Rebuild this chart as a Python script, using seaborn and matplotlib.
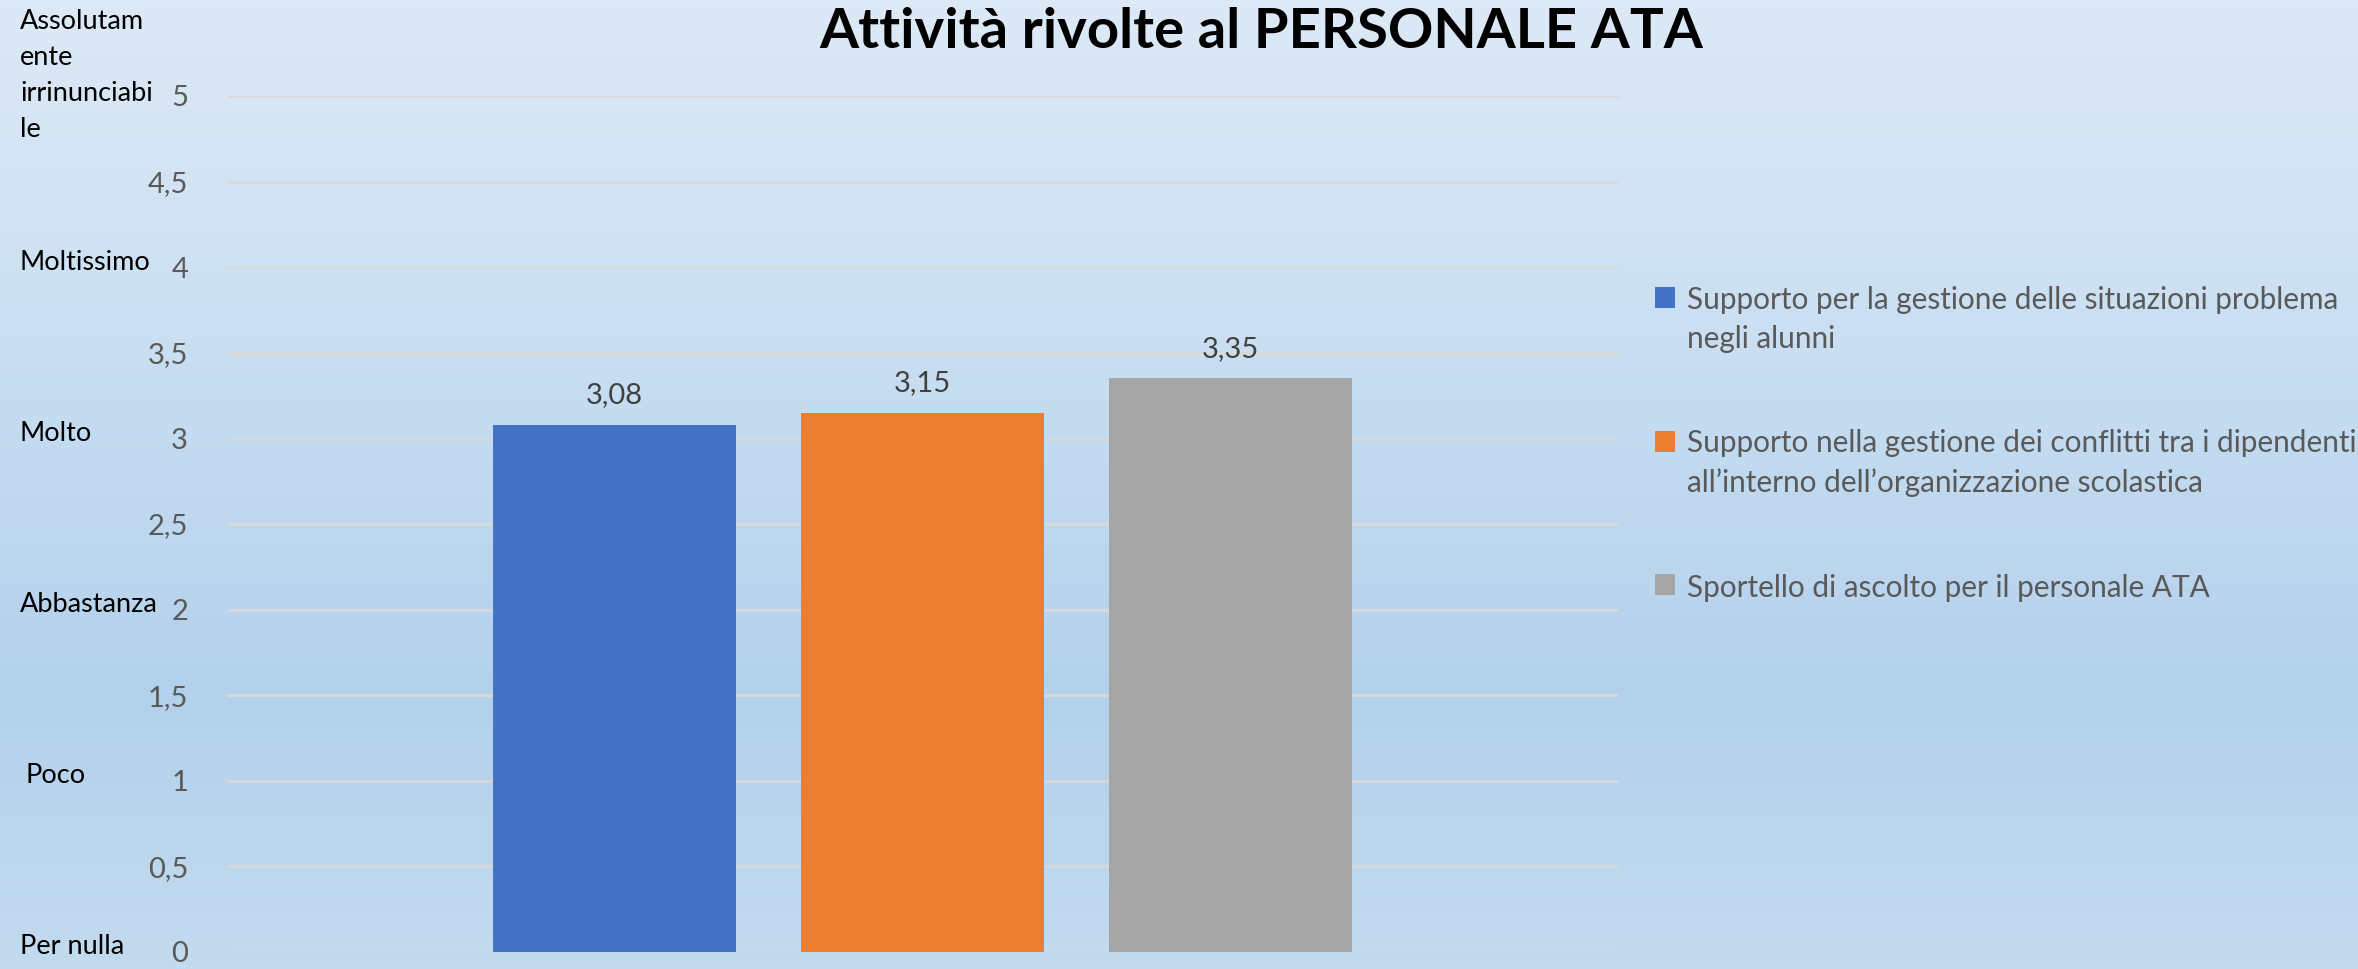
import numpy as np
import pandas as pd
import matplotlib
matplotlib.use("Agg")
import matplotlib.pyplot as plt
from matplotlib.colors import LinearSegmentedColormap
from matplotlib.transforms import blended_transform_factory
import seaborn as sns

# dati
attivita = [
    "Supporto per la gestione delle situazioni problema\nnegli alunni",
    "Supporto nella gestione dei conflitti tra i dipendenti\nall\u2019interno dell\u2019organizzazione scolastica",
    "Sportello di ascolto per il personale ATA",
]
punteggi = [3.08, 3.15, 3.35]
colori = ["#4472C4", "#ED7D31", "#A5A5A5"]
livelli = ["Per nulla", "Poco", "Abbastanza", "Molto", "Moltissimo",
           "Assolutam\nente\nirrinunciabi\nle"]
livelli_y = [0, 1, 2, 3, 4, 5]
yticks = np.arange(0, 5.01, 0.5)

sns.set_theme(style="white")
plt.rcParams["font.family"] = ["Lato", "DejaVu Sans"]

df = pd.DataFrame({"attivita": attivita, "punteggio": punteggi})

fig = plt.figure(figsize=(23.58, 9.69), dpi=100)
renderer = fig.canvas.get_renderer()


def adatta(t, larghezza):
    # riduce il corpo del testo finché non sta nella larghezza voluta (px)
    w = t.get_window_extent(renderer).width
    t.set_fontsize(t.get_fontsize() * larghezza / w)


# sfondo sfumato
bg = fig.add_axes([0, 0, 1, 1], zorder=-10)
cmap = LinearSegmentedColormap.from_list(
    "sfondo", [(0, "#dde9f6"), (0.35, "#cadff2"), (0.72, "#b3d1eb"), (1, "#c3dbef")])
bg.imshow(np.linspace(0, 1, 256)[:, None], aspect="auto", cmap=cmap, extent=[0, 1, 0, 1])
bg.axis("off")

ax = fig.add_axes([227 / 2358, 1 - 952 / 969, (1618 - 227) / 2358, (952 - 96) / 969])
ax.patch.set_alpha(0)
sns.barplot(data=df, x="attivita", y="punteggio", hue="attivita", palette=colori,
            width=0.79, saturation=1, linewidth=0, legend=True, ax=ax, zorder=3)

ax.set_ylim(0, 5)
ax.set_xlim(-1.26, 3.26)
ax.set_yticks(yticks)
ax.set_yticklabels([f"{v:g}".replace(".", ",") for v in yticks], fontsize=21, color="#595959")
ax.tick_params(axis="y", length=0, pad=28)
ax.set_xticks([])
ax.set_xlabel("")
ax.set_ylabel("")
ax.grid(axis="y", color="#d9d9d9", linewidth=2, zorder=0)
for s in ax.spines.values():
    s.set_visible(False)

for c in ax.containers:
    ax.bar_label(c, labels=[f"{v:.2f}".replace(".", ",") for v in c.datavalues],
                 padding=12, fontsize=21, color="#404040")

# etichette della scala
trans = blended_transform_factory(fig.transFigure, ax.transData)
for txt, yv in zip(livelli, livelli_y):
    x0 = 26 if txt == "Poco" else 20
    yy = 5.12 if yv == 5 else yv + 0.03
    t = ax.text(x0 / 2358, yy, txt, transform=trans, ha="left", va="center",
                fontsize=19, color="black", linespacing=1.55)
    if txt == "Abbastanza":
        adatta(t, 138)
        corpo = t.get_fontsize()
for t in ax.texts[-len(livelli):]:
    t.set_fontsize(corpo)

ax.legend_.remove()
h, l = ax.get_legend_handles_labels()
leg = fig.legend(h, l, loc="upper left", bbox_to_anchor=(1655 / 2358, 1 - 286 / 969),
                 frameon=False, fontsize=24, labelcolor="#595959", labelspacing=2.3,
                 handlelength=0.6, handleheight=0.6, handletextpad=0.35,
                 borderpad=0, borderaxespad=0)
adatta(leg.get_texts()[1], 670)
fs = leg.get_texts()[1].get_fontsize()
for t in leg.get_texts():
    t.set_fontsize(fs)
    t.set_linespacing(1.46)
# marcatore allineato alla prima riga
for p, lab in zip(leg.legend_handles, l):
    righe = lab.count("\n")
    p.set_y(p.get_y() + 0.5 * 1.46 * fs * righe)

tit = fig.text(1261 / 2358, 1 - 48 / 969, "Attivit\u00e0 rivolte al PERSONALE ATA", ha="center",
               va="baseline", fontsize=40, fontweight="bold", color="black")
adatta(tit, 883)

fig.savefig("out.png", dpi=100)
